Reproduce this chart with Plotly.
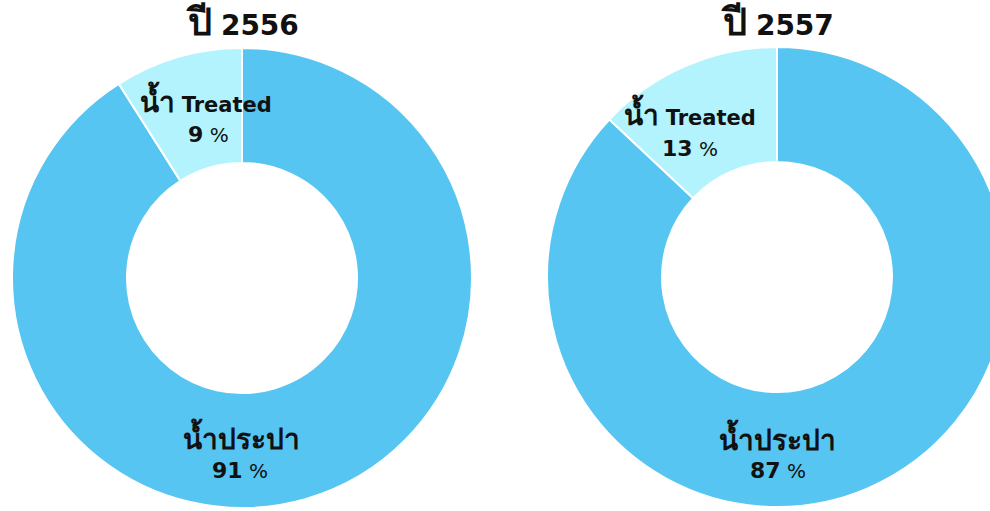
import plotly.graph_objects as go

year_prefix = "ปี"
year_numbers = ["2556", "2557"]
categories = ["น้ำ Treated", "น้ำประปา"]
values_2556 = [9, 91]
values_2557 = [13, 87]

colors = ["#B3F3FD", "#56C5F2"]
W, H = 1010, 511
FONT = "Tahoma, Verdana, 'DejaVu Sans', sans-serif"

def dom(cx, cy, r):
    return dict(x=[(cx - r) / W, (cx + r) / W], y=[(H - cy - r) / H, (H - cy + r) / H])

fig = go.Figure()
for vals, (cx, cy) in [(values_2556, (242, 278)), (values_2557, (777, 277))]:
    # drawn clockwise from 12 o'clock: tap water first, treated water ends at 12 o'clock
    fig.add_trace(go.Pie(labels=categories[::-1], values=vals[::-1], hole=0.5, sort=False,
                         direction="clockwise", rotation=0, textinfo="none",
                         marker=dict(colors=colors[::-1], line=dict(color="white", width=2)),
                         domain=dom(cx, cy, 230), showlegend=False, hoverinfo="label+percent"))

def ann(x, y, text, size=21):
    fig.add_annotation(x=x / W, y=1 - y / H, xref="paper", yref="paper", text=text,
                       showarrow=False, font=dict(family=FONT, size=size, color="#111111"),
                       xanchor="center", yanchor="middle")

def thai(s, size):
    return "<span style='font-size:%dpx'><b>%s</b></span>" % (size, s)

treated_label = thai(categories[0].split(" ")[0], 28) + " <b>" + categories[0].split(" ", 1)[1] + "</b>"
tap_label = thai(categories[1], 28)

def pct(v):
    return "<b>%d</b><span style='font-size:20px'> %%</span>" % v

ann(242, 22, thai(year_prefix, 38) + " <b>%s</b>" % year_numbers[0], 28)
ann(777, 22, thai(year_prefix, 38) + " <b>%s</b>" % year_numbers[1], 28)

ann(206, 100, treated_label)
ann(208, 134, pct(values_2556[0]), 22)
ann(241, 437, tap_label)
ann(240, 470, pct(values_2556[1]), 22)

ann(690, 113, treated_label)
ann(690, 148, pct(values_2557[0]), 22)
ann(777, 438, tap_label)
ann(778, 470, pct(values_2557[1]), 22)

fig.update_layout(width=W, height=H, autosize=False,
                  margin=dict(l=0, r=0, t=0, b=0),
                  paper_bgcolor="white", plot_bgcolor="white")

fig.write_html("out.html", config={"displayModeBar": False},
               post_script="document.body.style.margin='0';document.body.style.overflow='hidden';document.documentElement.style.overflow='hidden';")
